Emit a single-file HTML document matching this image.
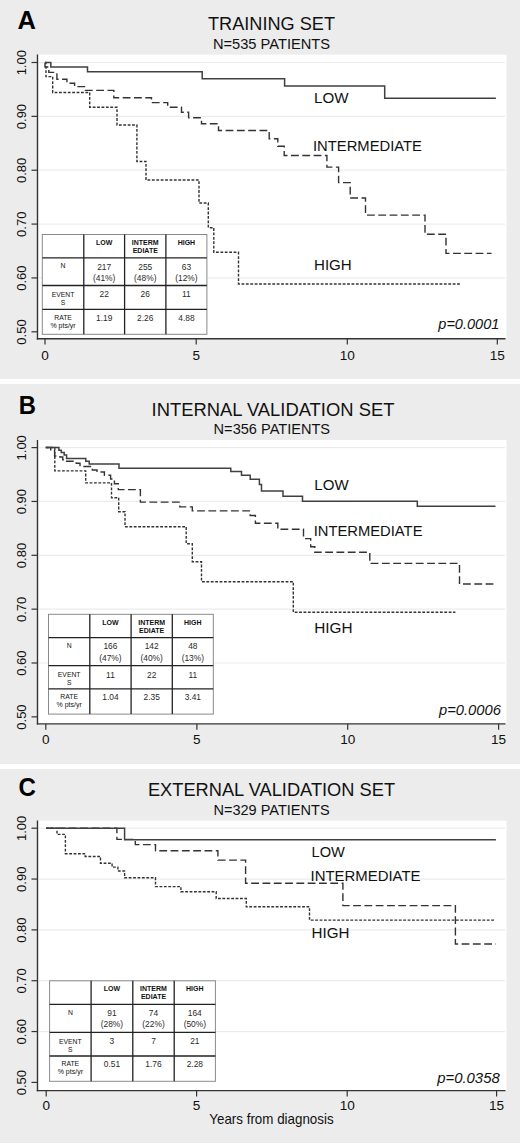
<!DOCTYPE html>
<html><head><meta charset="utf-8"><title>KM curves</title>
<style>
html,body{margin:0;padding:0;background:#fff;}
body{width:520px;height:1143px;overflow:hidden;}
svg{display:block;font-family:"Liberation Sans",sans-serif;}
</style></head>
<body>
<svg width="520" height="1143" viewBox="0 0 520 1143">
<rect x="0" y="0" width="520" height="1143" fill="#fff"/>
<rect x="0" y="0" width="520" height="379" fill="#ececec"/>
<rect x="38" y="54.6" width="468.5" height="283.9" fill="#fff"/>
<line x1="39" x2="505.0" y1="62.50" y2="62.50" stroke="#ececec" stroke-width="1.2"/>
<line x1="39" x2="505.0" y1="116.36" y2="116.36" stroke="#ececec" stroke-width="1.2"/>
<line x1="39" x2="505.0" y1="170.22" y2="170.22" stroke="#ececec" stroke-width="1.2"/>
<line x1="39" x2="505.0" y1="224.08" y2="224.08" stroke="#ececec" stroke-width="1.2"/>
<line x1="39" x2="505.0" y1="277.94" y2="277.94" stroke="#ececec" stroke-width="1.2"/>
<text x="17.60" y="29.20" font-size="25.5" font-weight="bold" fill="#000">A</text>
<text x="208.00" y="29.70" font-size="18.8" textLength="127.00" lengthAdjust="spacingAndGlyphs" fill="#111">TRAINING SET</text>
<text x="212.90" y="48.70" font-size="14.6" textLength="117.20" lengthAdjust="spacingAndGlyphs" fill="#111">N=535 PATIENTS</text>
<line x1="37.5" x2="37.5" y1="54.6" y2="339.4" stroke="#333333" stroke-width="1.4"/>
<line x1="36.8" x2="505.5" y1="338.7" y2="338.7" stroke="#333333" stroke-width="1.4"/>
<line x1="31.5" x2="37.5" y1="62.50" y2="62.50" stroke="#333333" stroke-width="1.2"/>
<text x="0" y="0" font-size="13" text-anchor="middle" fill="#111" transform="translate(26.4,62.70) rotate(-90)">1.00</text>
<line x1="31.5" x2="37.5" y1="116.36" y2="116.36" stroke="#333333" stroke-width="1.2"/>
<text x="0" y="0" font-size="13" text-anchor="middle" fill="#111" transform="translate(26.4,116.56) rotate(-90)">0.90</text>
<line x1="31.5" x2="37.5" y1="170.22" y2="170.22" stroke="#333333" stroke-width="1.2"/>
<text x="0" y="0" font-size="13" text-anchor="middle" fill="#111" transform="translate(26.4,170.42) rotate(-90)">0.80</text>
<line x1="31.5" x2="37.5" y1="224.08" y2="224.08" stroke="#333333" stroke-width="1.2"/>
<text x="0" y="0" font-size="13" text-anchor="middle" fill="#111" transform="translate(26.4,224.28) rotate(-90)">0.70</text>
<line x1="31.5" x2="37.5" y1="277.94" y2="277.94" stroke="#333333" stroke-width="1.2"/>
<text x="0" y="0" font-size="13" text-anchor="middle" fill="#111" transform="translate(26.4,278.14) rotate(-90)">0.60</text>
<line x1="31.5" x2="37.5" y1="331.80" y2="331.80" stroke="#333333" stroke-width="1.2"/>
<text x="0" y="0" font-size="13" text-anchor="middle" fill="#111" transform="translate(26.4,332.00) rotate(-90)">0.50</text>
<line x1="45.00" x2="45.00" y1="338.7" y2="344.5" stroke="#333333" stroke-width="1.2"/>
<text x="45.00" y="359.60" font-size="13.6" text-anchor="middle" fill="#111">0</text>
<line x1="196.20" x2="196.20" y1="338.7" y2="344.5" stroke="#333333" stroke-width="1.2"/>
<text x="196.20" y="359.60" font-size="13.6" text-anchor="middle" fill="#111">5</text>
<line x1="347.30" x2="347.30" y1="338.7" y2="344.5" stroke="#333333" stroke-width="1.2"/>
<text x="347.30" y="359.60" font-size="13.6" text-anchor="middle" fill="#111">10</text>
<line x1="497.30" x2="497.30" y1="338.7" y2="344.5" stroke="#333333" stroke-width="1.2"/>
<text x="497.30" y="359.60" font-size="13.6" text-anchor="middle" fill="#111">15</text>
<text x="314.00" y="103.40" font-size="15.4" textLength="34.50" lengthAdjust="spacingAndGlyphs" fill="#111">LOW</text>
<text x="313.00" y="150.60" font-size="15.4" textLength="109.00" lengthAdjust="spacingAndGlyphs" fill="#111">INTERMEDIATE</text>
<text x="314.00" y="270.00" font-size="15.4" textLength="37.75" lengthAdjust="spacingAndGlyphs" fill="#111">HIGH</text>
<text x="438.30" y="328.80" font-size="14.6" font-style="italic" textLength="61.00" lengthAdjust="spacingAndGlyphs" fill="#111">p=0.0001</text>
<path d="M45,62.5 H46 V76.6 H52.7 V92.5 H89.7 V107.2 H117 V125 H136.9 V161.5 H146 V180 H199 V203 H208.3 V227.7 H213.8 V252.3 H238.5 V284 H461.5" fill="none" stroke="#333333" stroke-width="1.4" stroke-dasharray="2.8 1.6"/>
<path d="M45,62.5 V67 H48.8 V72.4 H56.9 V79.3 H66.9 V83.2 H74.6 V86.6 H85.4 V90.4 H113.8 V97.8 H151.5 V102.6 H167.7 V107.2 H181.5 V112.3 H188.6 V117.8 H201.5 V123.7 H218.5 V130.5 H269.2 V138.7 H277.8 V146.2 H284.2 V155.5 H326.9 V167.1 H338.6 V182.6 H350.2 V198 H365.5 V215.1 H425 V234.3 H446 V253.4 H491.5" fill="none" stroke="#333333" stroke-width="1.4" stroke-dasharray="7.8 3.5"/>
<path d="M45,62.5 H50.8 V67 H87.5 V71.7 H202.2 V78.7 H284.6 V85.9 H384.7 V98.2 H495.9" fill="none" stroke="#404040" stroke-width="1.5"/>
<rect x="42.3" y="234.5" width="164.60" height="99.80" fill="#fff" stroke="#8a8a8a" stroke-width="1"/>
<line x1="83.8" x2="83.8" y1="234.5" y2="334.3" stroke="#222" stroke-width="1.3"/>
<line x1="124.6" x2="124.6" y1="234.5" y2="334.3" stroke="#222" stroke-width="1.3"/>
<line x1="165.9" x2="165.9" y1="234.5" y2="334.3" stroke="#222" stroke-width="1.3"/>
<line x1="42.3" x2="206.9" y1="257.9" y2="257.9" stroke="#222" stroke-width="1.3"/>
<line x1="42.3" x2="206.9" y1="285.5" y2="285.5" stroke="#222" stroke-width="1.3"/>
<line x1="42.3" x2="206.9" y1="309.3" y2="309.3" stroke="#222" stroke-width="1.3"/>
<text x="104.20" y="245.10" font-size="7" text-anchor="middle" font-weight="bold" fill="#111">LOW</text>
<text x="145.25" y="245.10" font-size="7" text-anchor="middle" font-weight="bold" fill="#111">INTERM</text>
<text x="145.25" y="252.80" font-size="7" text-anchor="middle" font-weight="bold" fill="#111">EDIATE</text>
<text x="186.40" y="245.10" font-size="7" text-anchor="middle" font-weight="bold" fill="#111">HIGH</text>
<text x="63.05" y="268.20" font-size="6.8" text-anchor="middle" fill="#111">N</text>
<text x="104.20" y="269.60" font-size="8.4" text-anchor="middle" fill="#2a2a2a">217</text>
<text x="104.20" y="280.80" font-size="8.4" text-anchor="middle" fill="#2a2a2a">(41%)</text>
<text x="145.25" y="269.60" font-size="8.4" text-anchor="middle" fill="#2a2a2a">255</text>
<text x="145.25" y="280.80" font-size="8.4" text-anchor="middle" fill="#2a2a2a">(48%)</text>
<text x="186.40" y="269.60" font-size="8.4" text-anchor="middle" fill="#2a2a2a">63</text>
<text x="186.40" y="280.80" font-size="8.4" text-anchor="middle" fill="#2a2a2a">(12%)</text>
<text x="63.05" y="296.80" font-size="6.8" text-anchor="middle" fill="#111">EVENT</text>
<text x="63.05" y="304.80" font-size="6.8" text-anchor="middle" fill="#111">S</text>
<text x="104.20" y="297.30" font-size="8.4" text-anchor="middle" fill="#2a2a2a">22</text>
<text x="145.25" y="297.30" font-size="8.4" text-anchor="middle" fill="#2a2a2a">26</text>
<text x="186.40" y="297.30" font-size="8.4" text-anchor="middle" fill="#2a2a2a">11</text>
<text x="63.05" y="319.70" font-size="6.8" text-anchor="middle" fill="#111">RATE</text>
<text x="63.05" y="327.70" font-size="7.0" text-anchor="middle" fill="#111">% pts/yr</text>
<text x="104.20" y="320.60" font-size="8.4" text-anchor="middle" fill="#2a2a2a">1.19</text>
<text x="145.25" y="320.60" font-size="8.4" text-anchor="middle" fill="#2a2a2a">2.26</text>
<text x="186.40" y="320.60" font-size="8.4" text-anchor="middle" fill="#2a2a2a">4.88</text>
<rect x="0" y="384" width="520" height="380" fill="#ececec"/>
<rect x="38" y="440.0" width="468.5" height="284.0" fill="#fff"/>
<line x1="39" x2="505.0" y1="447.60" y2="447.60" stroke="#ececec" stroke-width="1.2"/>
<line x1="39" x2="505.0" y1="501.45" y2="501.45" stroke="#ececec" stroke-width="1.2"/>
<line x1="39" x2="505.0" y1="555.30" y2="555.30" stroke="#ececec" stroke-width="1.2"/>
<line x1="39" x2="505.0" y1="609.15" y2="609.15" stroke="#ececec" stroke-width="1.2"/>
<line x1="39" x2="505.0" y1="663.00" y2="663.00" stroke="#ececec" stroke-width="1.2"/>
<text x="18.70" y="414.40" font-size="25.5" font-weight="bold" textLength="17.20" lengthAdjust="spacingAndGlyphs" fill="#000">B</text>
<text x="151.60" y="415.50" font-size="18.8" textLength="242.80" lengthAdjust="spacingAndGlyphs" fill="#111">INTERNAL VALIDATION SET</text>
<text x="213.60" y="433.80" font-size="14.6" textLength="116.50" lengthAdjust="spacingAndGlyphs" fill="#111">N=356 PATIENTS</text>
<line x1="37.5" x2="37.5" y1="440.0" y2="724.6" stroke="#333333" stroke-width="1.4"/>
<line x1="36.8" x2="505.5" y1="723.9" y2="723.9" stroke="#333333" stroke-width="1.4"/>
<line x1="31.5" x2="37.5" y1="447.60" y2="447.60" stroke="#333333" stroke-width="1.2"/>
<text x="0" y="0" font-size="13" text-anchor="middle" fill="#111" transform="translate(26.4,447.80) rotate(-90)">1.00</text>
<line x1="31.5" x2="37.5" y1="501.45" y2="501.45" stroke="#333333" stroke-width="1.2"/>
<text x="0" y="0" font-size="13" text-anchor="middle" fill="#111" transform="translate(26.4,501.65) rotate(-90)">0.90</text>
<line x1="31.5" x2="37.5" y1="555.30" y2="555.30" stroke="#333333" stroke-width="1.2"/>
<text x="0" y="0" font-size="13" text-anchor="middle" fill="#111" transform="translate(26.4,555.50) rotate(-90)">0.80</text>
<line x1="31.5" x2="37.5" y1="609.15" y2="609.15" stroke="#333333" stroke-width="1.2"/>
<text x="0" y="0" font-size="13" text-anchor="middle" fill="#111" transform="translate(26.4,609.35) rotate(-90)">0.70</text>
<line x1="31.5" x2="37.5" y1="663.00" y2="663.00" stroke="#333333" stroke-width="1.2"/>
<text x="0" y="0" font-size="13" text-anchor="middle" fill="#111" transform="translate(26.4,663.20) rotate(-90)">0.60</text>
<line x1="31.5" x2="37.5" y1="716.85" y2="716.85" stroke="#333333" stroke-width="1.2"/>
<text x="0" y="0" font-size="13" text-anchor="middle" fill="#111" transform="translate(26.4,717.05) rotate(-90)">0.50</text>
<line x1="45.80" x2="45.80" y1="723.9" y2="729.6999999999999" stroke="#333333" stroke-width="1.2"/>
<text x="45.80" y="744.00" font-size="13.6" text-anchor="middle" fill="#111">0</text>
<line x1="196.90" x2="196.90" y1="723.9" y2="729.6999999999999" stroke="#333333" stroke-width="1.2"/>
<text x="196.90" y="744.00" font-size="13.6" text-anchor="middle" fill="#111">5</text>
<line x1="347.70" x2="347.70" y1="723.9" y2="729.6999999999999" stroke="#333333" stroke-width="1.2"/>
<text x="347.70" y="744.00" font-size="13.6" text-anchor="middle" fill="#111">10</text>
<line x1="498.60" x2="498.60" y1="723.9" y2="729.6999999999999" stroke="#333333" stroke-width="1.2"/>
<text x="498.60" y="744.00" font-size="13.6" text-anchor="middle" fill="#111">15</text>
<text x="314.30" y="489.60" font-size="15.4" textLength="34.30" lengthAdjust="spacingAndGlyphs" fill="#111">LOW</text>
<text x="313.70" y="536.40" font-size="15.4" textLength="108.80" lengthAdjust="spacingAndGlyphs" fill="#111">INTERMEDIATE</text>
<text x="314.30" y="632.80" font-size="15.4" textLength="38.30" lengthAdjust="spacingAndGlyphs" fill="#111">HIGH</text>
<text x="439.00" y="715.00" font-size="14.6" font-style="italic" textLength="61.90" lengthAdjust="spacingAndGlyphs" fill="#111">p=0.0006</text>
<path d="M45.8,447.5 H54.8 V470.9 H85.7 V482.9 H111.5 V497.7 H118.7 V511.7 H125 V526.7 H186.2 V543.8 H192.3 V561.7 H201.5 V581.7 H293.3 V612.2 H455.4" fill="none" stroke="#333333" stroke-width="1.4" stroke-dasharray="2.8 1.6"/>
<path d="M45.8,447.5 H50.7 V449.7 H54.6 V456 H59.9 V457 H62.75 V459.8 H64.7 V461.3 H76.2 V463.2 H80 V466.5 H92.3 V470 H97 V472 H104.4 V475.3 H110.6 V479 H114.4 V483.8 H118.3 V489.6 H140.4 V502.1 H179.8 V506.9 H192.3 V510.9 H250.2 V515.5 H255.4 V523.2 H277.8 V529.2 H303.5 V538.6 H310.7 V546.8 H314.8 V552.3 H369.8 V563.4 H459.5 V584 H494.7" fill="none" stroke="#333333" stroke-width="1.4" stroke-dasharray="7.8 3.5"/>
<path d="M45.8,447.5 H58.9 V450.2 H61.3 V452.6 H64.2 V455 H66.6 V458.4 H85.8 V461.3 H89.2 V464 H119 V468.3 H230.8 V471.5 H241.5 V475.2 H250.2 V479.2 H259.4 V484.5 H261.5 V490.9 H283 V496.2 H302.5 V501.3 H417.3 V506.3 H495.5" fill="none" stroke="#404040" stroke-width="1.5"/>
<rect x="48.5" y="614.3" width="164.80" height="99.80" fill="#fff" stroke="#8a8a8a" stroke-width="1"/>
<line x1="89.8" x2="89.8" y1="614.3" y2="714.1" stroke="#222" stroke-width="1.3"/>
<line x1="131.1" x2="131.1" y1="614.3" y2="714.1" stroke="#222" stroke-width="1.3"/>
<line x1="172.3" x2="172.3" y1="614.3" y2="714.1" stroke="#222" stroke-width="1.3"/>
<line x1="48.5" x2="213.3" y1="637.7" y2="637.7" stroke="#222" stroke-width="1.3"/>
<line x1="48.5" x2="213.3" y1="665.7" y2="665.7" stroke="#222" stroke-width="1.3"/>
<line x1="48.5" x2="213.3" y1="688.9" y2="688.9" stroke="#222" stroke-width="1.3"/>
<text x="110.45" y="624.90" font-size="7" text-anchor="middle" font-weight="bold" fill="#111">LOW</text>
<text x="151.70" y="624.90" font-size="7" text-anchor="middle" font-weight="bold" fill="#111">INTERM</text>
<text x="151.70" y="632.60" font-size="7" text-anchor="middle" font-weight="bold" fill="#111">EDIATE</text>
<text x="192.80" y="624.90" font-size="7" text-anchor="middle" font-weight="bold" fill="#111">HIGH</text>
<text x="69.15" y="648.00" font-size="6.8" text-anchor="middle" fill="#111">N</text>
<text x="110.45" y="649.40" font-size="8.4" text-anchor="middle" fill="#2a2a2a">166</text>
<text x="110.45" y="660.60" font-size="8.4" text-anchor="middle" fill="#2a2a2a">(47%)</text>
<text x="151.70" y="649.40" font-size="8.4" text-anchor="middle" fill="#2a2a2a">142</text>
<text x="151.70" y="660.60" font-size="8.4" text-anchor="middle" fill="#2a2a2a">(40%)</text>
<text x="192.80" y="649.40" font-size="8.4" text-anchor="middle" fill="#2a2a2a">48</text>
<text x="192.80" y="660.60" font-size="8.4" text-anchor="middle" fill="#2a2a2a">(13%)</text>
<text x="69.15" y="677.00" font-size="6.8" text-anchor="middle" fill="#111">EVENT</text>
<text x="69.15" y="685.00" font-size="6.8" text-anchor="middle" fill="#111">S</text>
<text x="110.45" y="677.50" font-size="8.4" text-anchor="middle" fill="#2a2a2a">11</text>
<text x="151.70" y="677.50" font-size="8.4" text-anchor="middle" fill="#2a2a2a">22</text>
<text x="192.80" y="677.50" font-size="8.4" text-anchor="middle" fill="#2a2a2a">11</text>
<text x="69.15" y="699.30" font-size="6.8" text-anchor="middle" fill="#111">RATE</text>
<text x="69.15" y="707.30" font-size="7.0" text-anchor="middle" fill="#111">% pts/yr</text>
<text x="110.45" y="700.20" font-size="8.4" text-anchor="middle" fill="#2a2a2a">1.04</text>
<text x="151.70" y="700.20" font-size="8.4" text-anchor="middle" fill="#2a2a2a">2.35</text>
<text x="192.80" y="700.20" font-size="8.4" text-anchor="middle" fill="#2a2a2a">3.41</text>
<rect x="0" y="769" width="520" height="374" fill="#ececec"/>
<rect x="38" y="820.6" width="468.5" height="269.9999999999999" fill="#fff"/>
<line x1="39" x2="505.0" y1="828.20" y2="828.20" stroke="#ececec" stroke-width="1.2"/>
<line x1="39" x2="505.0" y1="879.04" y2="879.04" stroke="#ececec" stroke-width="1.2"/>
<line x1="39" x2="505.0" y1="929.88" y2="929.88" stroke="#ececec" stroke-width="1.2"/>
<line x1="39" x2="505.0" y1="980.72" y2="980.72" stroke="#ececec" stroke-width="1.2"/>
<line x1="39" x2="505.0" y1="1031.56" y2="1031.56" stroke="#ececec" stroke-width="1.2"/>
<text x="18.40" y="795.80" font-size="25.5" font-weight="bold" textLength="17.40" lengthAdjust="spacingAndGlyphs" fill="#000">C</text>
<text x="147.90" y="795.80" font-size="18.8" textLength="247.20" lengthAdjust="spacingAndGlyphs" fill="#111">EXTERNAL VALIDATION SET</text>
<text x="213.40" y="815.00" font-size="14.6" textLength="116.20" lengthAdjust="spacingAndGlyphs" fill="#111">N=329 PATIENTS</text>
<line x1="37.5" x2="37.5" y1="820.6" y2="1091.3" stroke="#333333" stroke-width="1.4"/>
<line x1="36.8" x2="505.5" y1="1090.6" y2="1090.6" stroke="#333333" stroke-width="1.4"/>
<line x1="31.5" x2="37.5" y1="828.20" y2="828.20" stroke="#333333" stroke-width="1.2"/>
<text x="0" y="0" font-size="13" text-anchor="middle" fill="#111" transform="translate(26.4,828.40) rotate(-90)">1.00</text>
<line x1="31.5" x2="37.5" y1="879.04" y2="879.04" stroke="#333333" stroke-width="1.2"/>
<text x="0" y="0" font-size="13" text-anchor="middle" fill="#111" transform="translate(26.4,879.24) rotate(-90)">0.90</text>
<line x1="31.5" x2="37.5" y1="929.88" y2="929.88" stroke="#333333" stroke-width="1.2"/>
<text x="0" y="0" font-size="13" text-anchor="middle" fill="#111" transform="translate(26.4,930.08) rotate(-90)">0.80</text>
<line x1="31.5" x2="37.5" y1="980.72" y2="980.72" stroke="#333333" stroke-width="1.2"/>
<text x="0" y="0" font-size="13" text-anchor="middle" fill="#111" transform="translate(26.4,980.92) rotate(-90)">0.70</text>
<line x1="31.5" x2="37.5" y1="1031.56" y2="1031.56" stroke="#333333" stroke-width="1.2"/>
<text x="0" y="0" font-size="13" text-anchor="middle" fill="#111" transform="translate(26.4,1031.76) rotate(-90)">0.60</text>
<line x1="31.5" x2="37.5" y1="1082.40" y2="1082.40" stroke="#333333" stroke-width="1.2"/>
<text x="0" y="0" font-size="13" text-anchor="middle" fill="#111" transform="translate(26.4,1082.60) rotate(-90)">0.50</text>
<line x1="46.20" x2="46.20" y1="1090.6" y2="1096.3999999999999" stroke="#333333" stroke-width="1.2"/>
<text x="46.20" y="1110.40" font-size="13.6" text-anchor="middle" fill="#111">0</text>
<line x1="196.60" x2="196.60" y1="1090.6" y2="1096.3999999999999" stroke="#333333" stroke-width="1.2"/>
<text x="196.60" y="1110.40" font-size="13.6" text-anchor="middle" fill="#111">5</text>
<line x1="347.20" x2="347.20" y1="1090.6" y2="1096.3999999999999" stroke="#333333" stroke-width="1.2"/>
<text x="347.20" y="1110.40" font-size="13.6" text-anchor="middle" fill="#111">10</text>
<line x1="496.60" x2="496.60" y1="1090.6" y2="1096.3999999999999" stroke="#333333" stroke-width="1.2"/>
<text x="496.60" y="1110.40" font-size="13.6" text-anchor="middle" fill="#111">15</text>
<text x="311.50" y="857.20" font-size="15.4" textLength="33.30" lengthAdjust="spacingAndGlyphs" fill="#111">LOW</text>
<text x="310.50" y="881.20" font-size="15.4" textLength="110.00" lengthAdjust="spacingAndGlyphs" fill="#111">INTERMEDIATE</text>
<text x="311.50" y="937.80" font-size="15.4" textLength="37.90" lengthAdjust="spacingAndGlyphs" fill="#111">HIGH</text>
<text x="437.20" y="1082.70" font-size="14.6" font-style="italic" textLength="62.50" lengthAdjust="spacingAndGlyphs" fill="#111">p=0.0358</text>
<path d="M46.2,828.3 H57 V834.4 H65.4 V853.7 H85.2 V856.5 H100.5 V863.3 H112.1 V867.1 H117.9 V871 H124.6 V877.8 H155.5 V886.6 H180.9 V891.7 H216.2 V898.5 H246.3 V906.8 H309.5 V920.1 H495.5" fill="none" stroke="#333333" stroke-width="1.4" stroke-dasharray="2.8 1.6"/>
<path d="M46.2,828.3 H116.9 V839.4 H135.3 V844.6 H155.5 V850.8 H217.9 V860.1 H245.6 V883.2 H342.9 V905.6 H455.4 V944 H495.9" fill="none" stroke="#333333" stroke-width="1.4" stroke-dasharray="7.8 3.5"/>
<path d="M46.2,828.3 H124.6 V839.7 H495.9" fill="none" stroke="#404040" stroke-width="1.5"/>
<rect x="49.6" y="980.8" width="165.80" height="100.50" fill="#fff" stroke="#8a8a8a" stroke-width="1"/>
<line x1="91.1" x2="91.1" y1="980.8" y2="1081.3" stroke="#222" stroke-width="1.3"/>
<line x1="132.8" x2="132.8" y1="980.8" y2="1081.3" stroke="#222" stroke-width="1.3"/>
<line x1="174.2" x2="174.2" y1="980.8" y2="1081.3" stroke="#222" stroke-width="1.3"/>
<line x1="49.6" x2="215.4" y1="1004.4" y2="1004.4" stroke="#222" stroke-width="1.3"/>
<line x1="49.6" x2="215.4" y1="1032.4" y2="1032.4" stroke="#222" stroke-width="1.3"/>
<line x1="49.6" x2="215.4" y1="1056.0" y2="1056.0" stroke="#222" stroke-width="1.3"/>
<text x="111.95" y="991.40" font-size="7" text-anchor="middle" font-weight="bold" fill="#111">LOW</text>
<text x="153.50" y="991.40" font-size="7" text-anchor="middle" font-weight="bold" fill="#111">INTERM</text>
<text x="153.50" y="999.10" font-size="7" text-anchor="middle" font-weight="bold" fill="#111">EDIATE</text>
<text x="194.80" y="991.40" font-size="7" text-anchor="middle" font-weight="bold" fill="#111">HIGH</text>
<text x="70.35" y="1014.70" font-size="6.8" text-anchor="middle" fill="#111">N</text>
<text x="111.95" y="1016.10" font-size="8.4" text-anchor="middle" fill="#2a2a2a">91</text>
<text x="111.95" y="1027.30" font-size="8.4" text-anchor="middle" fill="#2a2a2a">(28%)</text>
<text x="153.50" y="1016.10" font-size="8.4" text-anchor="middle" fill="#2a2a2a">74</text>
<text x="153.50" y="1027.30" font-size="8.4" text-anchor="middle" fill="#2a2a2a">(22%)</text>
<text x="194.80" y="1016.10" font-size="8.4" text-anchor="middle" fill="#2a2a2a">164</text>
<text x="194.80" y="1027.30" font-size="8.4" text-anchor="middle" fill="#2a2a2a">(50%)</text>
<text x="70.35" y="1043.70" font-size="6.8" text-anchor="middle" fill="#111">EVENT</text>
<text x="70.35" y="1051.70" font-size="6.8" text-anchor="middle" fill="#111">S</text>
<text x="111.95" y="1044.20" font-size="8.4" text-anchor="middle" fill="#2a2a2a">3</text>
<text x="153.50" y="1044.20" font-size="8.4" text-anchor="middle" fill="#2a2a2a">7</text>
<text x="194.80" y="1044.20" font-size="8.4" text-anchor="middle" fill="#2a2a2a">21</text>
<text x="70.35" y="1066.40" font-size="6.8" text-anchor="middle" fill="#111">RATE</text>
<text x="70.35" y="1074.40" font-size="7.0" text-anchor="middle" fill="#111">% pts/yr</text>
<text x="111.95" y="1067.30" font-size="8.4" text-anchor="middle" fill="#2a2a2a">0.51</text>
<text x="153.50" y="1067.30" font-size="8.4" text-anchor="middle" fill="#2a2a2a">1.76</text>
<text x="194.80" y="1067.30" font-size="8.4" text-anchor="middle" fill="#2a2a2a">2.28</text>
<text x="209.30" y="1123.80" font-size="13.9" textLength="124.30" lengthAdjust="spacingAndGlyphs" fill="#111">Years from diagnosis</text>
</svg>
</body></html>
